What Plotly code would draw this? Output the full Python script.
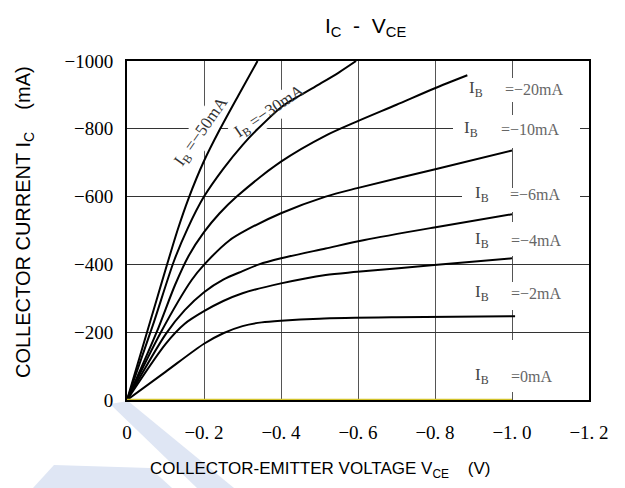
import math
import plotly.graph_objects as go

# ---------------- data ----------------
V_50 = [0, -0.065, -0.131, -0.16, -0.2, -0.242, -0.29, -0.339]
I_50 = [0, -250, -500, -595, -705, -800, -900, -1000]

V_30 = [0, -0.067, -0.122, -0.157, -0.2, -0.25, -0.3, -0.34, -0.403, -0.45, -0.5, -0.55, -0.595]
I_30 = [0, -220, -410, -505, -600, -682, -752, -800, -866, -899, -932, -966, -1000]

V_20 = [0, -0.077, -0.125, -0.16, -0.2, -0.24, -0.285, -0.4, -0.516, -0.598, -0.7, -0.798, -0.884]
I_20 = [0, -200, -340, -425, -495, -550, -600, -703, -780, -822, -871, -919, -958]

V_10 = [0, -0.088, -0.168, -0.201, -0.265, -0.313, -0.4, -0.516, -0.598, -0.798, -1.0]
I_10 = [0, -200, -354, -400, -470, -503, -551, -600, -625, -680, -736]

V_6 = [0, -0.101, -0.15, -0.2, -0.25, -0.3, -0.343, -0.4, -0.516, -0.617, -0.798, -1.0]
I_6 = [0, -195, -265, -318, -355, -380, -400, -418, -447, -472, -509, -548]

V_4 = [0, -0.1, -0.15, -0.2, -0.25, -0.3, -0.4, -0.516, -0.598, -0.798, -1.0]
I_4 = [0, -165, -225, -262, -292, -315, -344, -369, -378, -398, -418]

V_2 = [0, -0.1, -0.2, -0.25, -0.3, -0.35, -0.4, -0.5, -0.7, -1.008]
I_2 = [0, -83, -166, -197, -218, -229, -234, -240, -244, -247]

V_0 = [0, -1.0]
I_0 = [0, 0]

X_TICKS = [0, -0.2, -0.4, -0.6, -0.8, -1.0, -1.2]
X_TICKTEXT = ["0", "\u22120. 2", "\u22120. 4", "\u22120. 6", "\u22120. 8", "\u22121. 0", "\u22121. 2"]
Y_TICKS = [0, -200, -400, -600, -800, -1000]
Y_TICKTEXT = ["0", "\u2212200", "\u2212400", "\u2212600", "\u2212800", "\u22121000"]

CURVE_LABELS = ["=\u221220mA", "=\u221210mA", "=\u22126mA", "=\u22124mA", "=\u22122mA", "=0mA"]

# ---------------- geometry helpers (pixel -> paper / data) ----------------
W, H = 625, 488
PL, PR, PT, PB = 127, 589, 61, 400
XMIN, XMAX = 0.0, -1.2
YMIN, YMAX = 0.0, -1000.0


def px(x):
    return (x - PL) / (PR - PL)


def py(y):
    return (PB - y) / (PB - PT)


def dxv(x):
    return XMIN + (XMAX - XMIN) * px(x)


def dyv(y):
    return YMIN + (YMAX - YMIN) * py(y)


def rot_rect(cx, cy, length, thick, ang_deg):
    a = math.radians(ang_deg)
    ux, uy = math.cos(a), -math.sin(a)
    nx, ny = math.sin(a), math.cos(a)
    pts = []
    for s, t in [(-1, -1), (1, -1), (1, 1), (-1, 1)]:
        x = cx + s * length / 2 * ux + t * thick / 2 * nx
        y = cy + s * length / 2 * uy + t * thick / 2 * ny
        pts.append((dxv(x), dyv(y)))
    return "M " + " L ".join(f"{a:.5f},{b:.3f}" for a, b in pts) + " Z"


fig = go.Figure()

for vx, iy in [(V_50, I_50), (V_30, I_30), (V_20, I_20), (V_10, I_10),
               (V_6, I_6), (V_4, I_4), (V_2, I_2)]:
    fig.add_trace(go.Scatter(x=vx, y=iy, mode="lines",
                             line=dict(color="black", width=2, shape="spline", smoothing=0.8),
                             showlegend=False, hoverinfo="skip"))

fig.add_trace(go.Scatter(x=V_0, y=I_0, mode="lines", cliponaxis=False,
                         line=dict(color="#d2c22a", width=2.5),
                         showlegend=False, hoverinfo="skip"))

shapes = []
for cx, cy, ln, th, ang in [(202, 132, 95, 26, 55), (270, 112, 88, 24, 34)]:
    shapes.append(dict(type="path", xref="x", yref="y", layer="between",
                       path=rot_rect(cx, cy, ln, th, ang),
                       fillcolor="white", line=dict(width=0)))
for x0, x1, y0, y1 in [(490, 578, 78, 102), (453, 580, 115, 148), (462, 580, 188, 212),
                       (462, 578, 222, 256), (462, 578, 282, 310), (462, 578, 340, 392)]:
    shapes.append(dict(type="rect", xref="x", yref="y", layer="between",
                       x0=dxv(x0), x1=dxv(x1), y0=dyv(y0), y1=dyv(y1),
                       fillcolor="white", line=dict(width=0)))

for poly in [[(110, 404), (128, 401), (234, 488), (197, 488)],
             [(33, 488), (54, 465), (150, 468), (172, 488)]]:
    path = "M " + " L ".join(f"{px(a):.4f},{py(b):.4f}" for a, b in poly) + " Z"
    shapes.append(dict(type="path", xref="paper", yref="paper", layer="below",
                       path=path, fillcolor="#dfe6f4", line=dict(width=0)))

annotations = []
SERIF = "Liberation Serif"
SANS = "Liberation Sans"

annotations.append(dict(xref="paper", yref="paper", x=px(202), y=py(132),
                        xanchor="center", yanchor="middle",
                        text="I<sub>B</sub> =\u221250mA",
                        textangle=-55, showarrow=False,
                        font=dict(family=SERIF, size=17, color="#333")))
annotations.append(dict(xref="paper", yref="paper", x=px(270), y=py(112),
                        xanchor="center", yanchor="middle",
                        text="I<sub>B</sub> =\u221230mA",
                        textangle=-34, showarrow=False,
                        font=dict(family=SERIF, size=17, color="#333")))

ib_x = [467, 462, 473, 473, 473, 473]
eq_x = [503, 499, 508, 509, 509, 509]
lab_y = [91, 131, 196, 242, 295, 378]
for xi, xe, yy, t in zip(ib_x, eq_x, lab_y, CURVE_LABELS):
    annotations.append(dict(xref="paper", yref="paper", x=px(xi), y=py(yy - 2),
                            xanchor="left", yanchor="middle", showarrow=False,
                            text="I<sub>B</sub>",
                            font=dict(family=SERIF, size=17, color="#444")))
    annotations.append(dict(xref="paper", yref="paper", x=px(xe), y=py(yy - 2),
                            xanchor="left", yanchor="middle", showarrow=False,
                            text=t, font=dict(family=SERIF, size=16, color="#666")))

annotations.append(dict(xref="paper", yref="paper", x=px(365), y=py(27),
                        xanchor="center", yanchor="middle", showarrow=False,
                        text="I<sub>C</sub>\u00a0\u00a0-\u00a0\u00a0V<sub>CE</sub>",
                        font=dict(family=SANS, size=21, color="black")))
annotations.append(dict(xref="paper", yref="paper", x=px(148), y=py(470),
                        xanchor="left", yanchor="middle", showarrow=False,
                        text="COLLECTOR-EMITTER VOLTAGE V<sub>CE</sub>\u00a0\u00a0\u00a0\u00a0(V)",
                        font=dict(family=SANS, size=17, color="black")))
annotations.append(dict(xref="paper", yref="paper", x=px(24), y=py(222),
                        xanchor="center", yanchor="middle", showarrow=False, textangle=-90,
                        text="COLLECTOR CURRENT I<sub>C</sub>\u00a0\u00a0\u00a0\u00a0(mA)",
                        font=dict(family=SANS, size=20, color="black")))

fig.update_layout(
    width=W, height=H,
    margin=dict(l=PL, r=W - PR, t=PT, b=H - PB, pad=0),
    paper_bgcolor="white", plot_bgcolor="rgba(0,0,0,0)",
    shapes=shapes, annotations=annotations,
    xaxis=dict(range=[XMIN, XMAX], tickvals=X_TICKS, ticktext=X_TICKTEXT,
               showgrid=True, gridcolor="#555", gridwidth=1, zeroline=False,
               showline=True, linecolor="black", linewidth=2, mirror=True,
               ticks="", ticklabelstandoff=14, layer="below traces",
               tickfont=dict(family=SERIF, size=19, color="black")),
    yaxis=dict(range=[YMIN, YMAX], tickvals=Y_TICKS, ticktext=Y_TICKTEXT,
               showgrid=True, gridcolor="#333", gridwidth=1, zeroline=False,
               showline=True, linecolor="black", linewidth=2, mirror=True,
               ticks="", ticklabelstandoff=8, layer="below traces",
               tickfont=dict(family=SERIF, size=19, color="black")),
)

fig.write_html("out.html")
